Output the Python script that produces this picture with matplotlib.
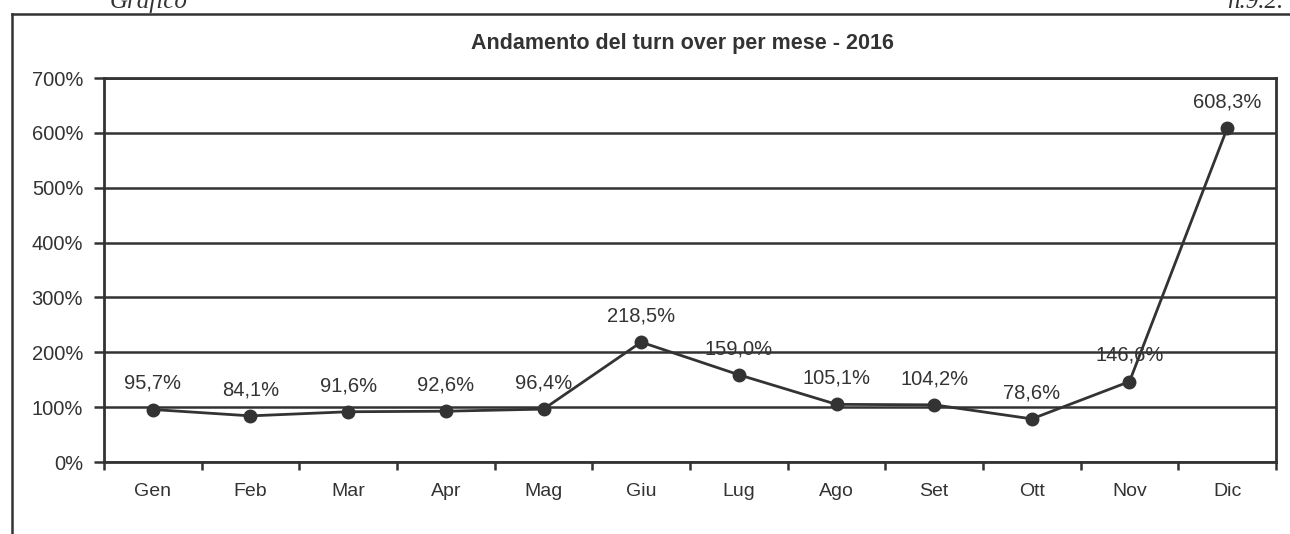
import matplotlib.pyplot as plt
from matplotlib.ticker import FixedLocator, NullFormatter

plt.rcParams['font.family'] = ['Liberation Sans', 'DejaVu Sans']

mesi = ['Gen', 'Feb', 'Mar', 'Apr', 'Mag', 'Giu', 'Lug', 'Ago', 'Set', 'Ott', 'Nov', 'Dic']
turn_over = [95.7, 84.1, 91.6, 92.6, 96.4, 218.5, 159.0, 105.1, 104.2, 78.6, 146.6, 608.3]
y_ticks = [0, 100, 200, 300, 400, 500, 600, 700]

scuro = '#333333'

fig = plt.figure(figsize=(12.9, 5.34), dpi=100)
ax = fig.add_axes([104 / 1290, 1 - 462 / 534, 1172 / 1290, 384 / 534])

x = list(range(len(mesi)))
ax.plot(x, turn_over, color=scuro, lw=2, marker='o', ms=9, zorder=3)

# etichette dei valori sopra i punti
for xi, v in zip(x, turn_over):
    ax.annotate(f'{v:.1f}%'.replace('.', ','), (xi, v), xytext=(0, 12),
                textcoords='offset points', ha='center', va='bottom',
                fontsize=14.5, color=scuro, zorder=4)

ax.set_xlim(-0.5, len(mesi) - 0.5)
ax.set_ylim(0, 700)
ax.set_yticks(y_ticks)
ax.set_yticklabels([f'{t}%' for t in y_ticks])
ax.yaxis.grid(True, color=scuro, lw=1.8)
ax.set_axisbelow(True)

# tick dell'asse x ai confini delle categorie, etichette al centro
ax.xaxis.set_major_locator(FixedLocator([i - 0.5 for i in range(len(mesi) + 1)]))
ax.xaxis.set_major_formatter(NullFormatter())
ax.xaxis.set_minor_locator(FixedLocator(x))
ax.set_xticklabels(mesi, minor=True)
ax.tick_params(axis='x', which='minor', length=0, pad=15, labelsize=14, labelcolor=scuro)
ax.tick_params(axis='x', which='major', length=6, width=1.8, color=scuro)
ax.tick_params(axis='y', length=7, width=1.8, color=scuro, labelsize=14.5,
               labelcolor=scuro, pad=8)

for s in ax.spines.values():
    s.set_color(scuro)
    s.set_linewidth(2)

fig.text(0.529, 1 - 44 / 534, 'Andamento del turn over per mese - 2016',
         ha='center', va='center', fontsize=15.5, fontweight='bold', color=scuro)

# cornice e intestazioni tagliate della pagina
fig.add_artist(plt.Line2D([12 / 1290, 1], [1 - 14 / 534] * 2, color=scuro, lw=1.8))
fig.add_artist(plt.Line2D([12 / 1290] * 2, [0, 1 - 14 / 534], color=scuro, lw=1.8))
fig.text(110 / 1290, 1 - 8 / 534, 'Grafico', family='Liberation Serif', style='italic',
         fontsize=18, color=scuro, va='baseline')
fig.text(1283 / 1290, 1 - 8 / 534, 'n.9.2.', family='Liberation Serif', style='italic',
         fontsize=18, color=scuro, va='baseline', ha='right')

fig.savefig('out.png', dpi=100, facecolor='white')
